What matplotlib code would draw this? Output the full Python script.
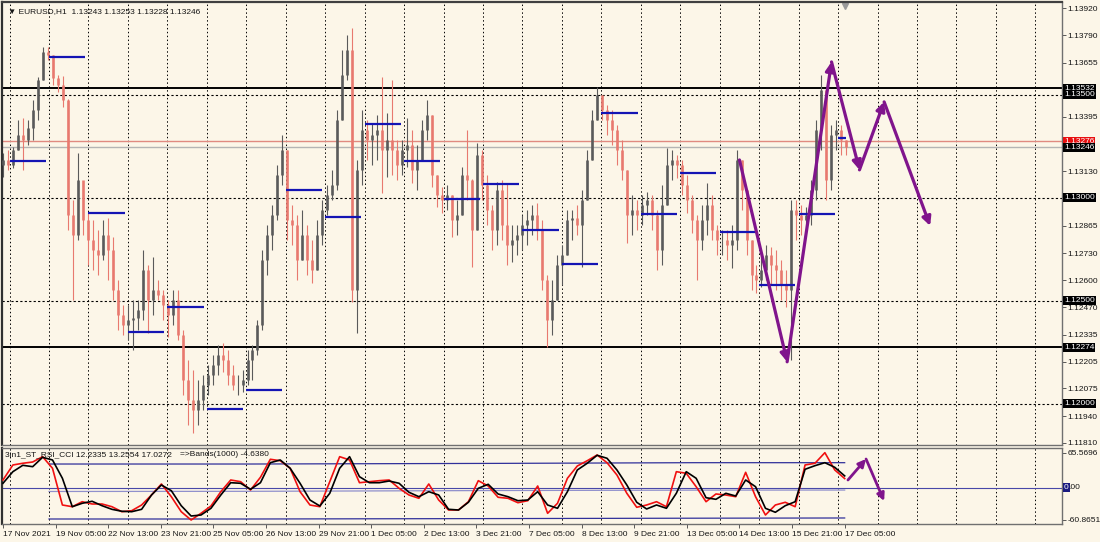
import numpy as np
import matplotlib
matplotlib.use("Agg")
import matplotlib.pyplot as plt
from matplotlib.transforms import blended_transform_factory

plt.rcParams['font.family'] = ['Liberation Sans', 'DejaVu Sans']

# EURUSD H1, read off the chart and grouped into 3-hour candles
# (17 Nov 21:00 -> 17 Dec 05:00); open = previous close
first_open = 1.13160
highs = [
    1.13218, 1.13233, 1.13248, 1.13379, 1.13388, 1.13379, 1.13476, 1.13587, 1.13733, 1.13733,
    1.13694, 1.13597, 1.13592, 1.13480, 1.12990, 1.13218, 1.13039, 1.12927, 1.12893, 1.12845,
    1.12893, 1.12903, 1.12811, 1.12602, 1.12481, 1.12481, 1.12505, 1.12505, 1.12748, 1.12675,
    1.12714, 1.12602, 1.12553, 1.12505, 1.12553, 1.12553, 1.12359, 1.12214, 1.12165, 1.12117,
    1.12141, 1.12189, 1.12238, 1.12286, 1.12296, 1.12262, 1.12189, 1.12141, 1.12165, 1.12262,
    1.12286, 1.12408, 1.12748, 1.12869, 1.12966, 1.13160, 1.13306, 1.13233, 1.12966, 1.12917,
    1.12942, 1.12869, 1.12796, 1.12893, 1.12990, 1.13063, 1.13136, 1.13427, 1.13718, 1.13791,
    1.13825, 1.13184, 1.13427, 1.13379, 1.13364, 1.13403, 1.13587, 1.13413, 1.13573, 1.13282,
    1.13282, 1.13388, 1.13330, 1.13257, 1.13379, 1.13476, 1.13403, 1.13112, 1.13053, 1.13063,
    1.13015, 1.12990, 1.13150, 1.13330, 1.13090, 1.13267, 1.13233, 1.13112, 1.12966, 1.13078,
    1.13087, 1.13073, 1.12869, 1.12869, 1.12917, 1.12942, 1.12966, 1.12976, 1.12893, 1.12626,
    1.12602, 1.12723, 1.12772, 1.12942, 1.12942, 1.12966, 1.13039, 1.13233, 1.13427, 1.13539,
    1.13500, 1.13451, 1.13427, 1.13354, 1.13282, 1.13136, 1.13015, 1.12990, 1.13015, 1.13029,
    1.13015, 1.12942, 1.13063, 1.13243, 1.13233, 1.13209, 1.13184, 1.13112, 1.13015, 1.12917,
    1.12966, 1.13073, 1.13015, 1.12869, 1.12845, 1.12845, 1.12869, 1.13233, 1.13184, 1.13015,
    1.12796, 1.12675, 1.12723, 1.12772, 1.12762, 1.12748, 1.12699, 1.12651, 1.12990, 1.12990,
    1.12966, 1.12956, 1.13087, 1.13379, 1.13597, 1.13524, 1.13354, 1.13379, 1.13354, 1.13282,
]
lows = [
    1.13102, 1.13136, 1.13146, 1.13233, 1.13136, 1.13257, 1.13282, 1.13379, 1.13573, 1.13670,
    1.13549, 1.13515, 1.13442, 1.12845, 1.12505, 1.12796, 1.12820, 1.12675, 1.12651, 1.12626,
    1.12699, 1.12602, 1.12505, 1.12359, 1.12335, 1.12311, 1.12262, 1.12359, 1.12408, 1.12345,
    1.12432, 1.12505, 1.12408, 1.12325, 1.12384, 1.12311, 1.12044, 1.11898, 1.11859, 1.11898,
    1.11971, 1.12044, 1.12092, 1.12141, 1.12155, 1.12092, 1.12068, 1.12044, 1.12058, 1.12092,
    1.12117, 1.12238, 1.12359, 1.12626, 1.12748, 1.12893, 1.13063, 1.12796, 1.12772, 1.12602,
    1.12699, 1.12626, 1.12587, 1.12651, 1.12772, 1.12917, 1.12990, 1.13039, 1.13379, 1.13573,
    1.12495, 1.12345, 1.13063, 1.13184, 1.13160, 1.13184, 1.13024, 1.13102, 1.13112, 1.13087,
    1.13112, 1.13150, 1.13073, 1.13039, 1.13184, 1.13282, 1.13053, 1.12956, 1.12927, 1.12942,
    1.12811, 1.12820, 1.12917, 1.12990, 1.12665, 1.12845, 1.12990, 1.12869, 1.12748, 1.12772,
    1.12796, 1.12675, 1.12689, 1.12723, 1.12748, 1.12772, 1.12820, 1.12796, 1.12553, 1.12277,
    1.12335, 1.12505, 1.12578, 1.12723, 1.12796, 1.12820, 1.12665, 1.12990, 1.13184, 1.13379,
    1.13379, 1.13306, 1.13257, 1.13160, 1.13087, 1.12782, 1.12820, 1.12845, 1.12869, 1.12917,
    1.12845, 1.12651, 1.12675, 1.12966, 1.13087, 1.13097, 1.13015, 1.12927, 1.12830, 1.12602,
    1.12748, 1.12820, 1.12796, 1.12723, 1.12723, 1.12699, 1.12660, 1.12748, 1.12942, 1.12723,
    1.12553, 1.12539, 1.12568, 1.12602, 1.12578, 1.12553, 1.12505, 1.12471, 1.12214, 1.12796,
    1.12820, 1.12845, 1.12869, 1.12990, 1.13233, 1.12990, 1.13039, 1.13233, 1.13209, 1.13209,
]
closes = [
    1.13184, 1.13160, 1.13233, 1.13306, 1.13282, 1.13340, 1.13427, 1.13573, 1.13709, 1.13694,
    1.13582, 1.13549, 1.13476, 1.12917, 1.12820, 1.13087, 1.12893, 1.12796, 1.12748, 1.12723,
    1.12820, 1.12748, 1.12553, 1.12432, 1.12384, 1.12408, 1.12418, 1.12456, 1.12651, 1.12505,
    1.12553, 1.12529, 1.12481, 1.12432, 1.12505, 1.12335, 1.12117, 1.12019, 1.11971, 1.12019,
    1.12092, 1.12141, 1.12189, 1.12238, 1.12214, 1.12141, 1.12092, 1.12092, 1.12117, 1.12214,
    1.12262, 1.12384, 1.12699, 1.12820, 1.12917, 1.13112, 1.13233, 1.12893, 1.12869, 1.12699,
    1.12820, 1.12699, 1.12651, 1.12820, 1.12942, 1.13015, 1.13063, 1.13379, 1.13597, 1.13718,
    1.12553, 1.13136, 1.13330, 1.13282, 1.13306, 1.13330, 1.13233, 1.13282, 1.13233, 1.13160,
    1.13233, 1.13257, 1.13136, 1.13184, 1.13330, 1.13403, 1.13112, 1.13015, 1.12990, 1.13015,
    1.12893, 1.12917, 1.13112, 1.13087, 1.12845, 1.13209, 1.13063, 1.12942, 1.12845, 1.13039,
    1.12869, 1.12772, 1.12796, 1.12820, 1.12869, 1.12893, 1.12917, 1.12845, 1.12602, 1.12408,
    1.12505, 1.12675, 1.12723, 1.12893, 1.12903, 1.12869, 1.12990, 1.13184, 1.13379, 1.13500,
    1.13427, 1.13379, 1.13330, 1.13233, 1.13136, 1.12917, 1.12942, 1.12917, 1.12966, 1.12990,
    1.12917, 1.12748, 1.12966, 1.13160, 1.13184, 1.13160, 1.13063, 1.12990, 1.12893, 1.12796,
    1.12893, 1.12966, 1.12845, 1.12796, 1.12796, 1.12772, 1.12796, 1.13184, 1.13039, 1.12796,
    1.12626, 1.12602, 1.12651, 1.12723, 1.12675, 1.12651, 1.12578, 1.12553, 1.12942, 1.12917,
    1.12893, 1.12917, 1.13039, 1.13330, 1.13524, 1.13087, 1.13306, 1.13330, 1.13282, 1.13246,
]
last_bar = 513  # hourly bars covered by the candles

# time axis: one label every 32 hourly bars
time_labels = ["17 Nov 2021", "19 Nov 05:00", "22 Nov 13:00", "23 Nov 21:00", "25 Nov 05:00",
               "26 Nov 13:00", "29 Nov 21:00", "1 Dec 05:00", "2 Dec 13:00", "3 Dec 21:00",
               "7 Dec 05:00", "8 Dec 13:00", "9 Dec 21:00", "13 Dec 05:00", "14 Dec 13:00",
               "15 Dec 21:00", "17 Dec 05:00"]

# blue daily level segments (one per day)
day_levels = [1.13179, 1.13684, 1.12927, 1.12350, 1.12471, 1.11977, 1.12069, 1.13039,
              1.12908, 1.13359, 1.13179, 1.12995, 1.13068, 1.12845, 1.12680, 1.13412,
              1.12922, 1.13121, 1.12835, 1.12578, 1.12922, 1.13291]

dotted_levels = [1.13500, 1.13000, 1.12500, 1.12000]
solid_levels = [1.13532, 1.12274]
ask_price = 1.13276
bid_price = 1.13246
price_ticks = [1.13920, 1.13790, 1.13655, 1.13395, 1.13130, 1.12865, 1.12730, 1.12600,
               1.12470, 1.12335, 1.12205, 1.12075, 1.11940, 1.11810]

# hand-drawn wave forecast (bar index, price)
wave_bars = [448, 477, 504, 521, 536, 564]
wave_prices = [1.13184, 1.12204, 1.13660, 1.13136, 1.13466, 1.12864]

# 3in1_ST_RSI_CCI oscillator, sampled every 6 bars
osc_fast = [14.3, 42.5, 45.7, 48.1, 58.1, 36.3, -32.7, -35.9, -26.5, -30.8,
            -30.8, -35.9, -45.3, -43.4, -32.7, -13.9, 6.8, -17.1, -45.3, -60.9,
            -48.3, -34.6, -7.7, 14.3, 11.1, -4.5, 19.4, 53.2, 50.5, 36.3,
            -7.7, -32.7, -35.9, 11.1, 58.1, 51.9, 9.2, 11.1, 13.0, 14.3,
            -1.3, -13.9, -20.1, 6.8, -23.3, -42.1, -42.1, -26.5, 13.0, 3.0,
            -18.2, -20.1, -28.4, -24.6, 3.0, -48.3, -29.5, 17.5, 40.6, 50.5,
            61.3, 46.8, 23.7, -10.7, -37.0, -32.7, -26.5, -35.9, 29.9, 26.9,
            1.7, -26.5, -12.0, -13.9, -17.1, 28.7, -17.1, -51.5, -32.7, -27.6,
            -35.9, 42.5, 45.7, 65.6, 33.1, 17.0]
osc_slow = [8.1, 29.9, 41.9, 39.3, 56.9, 51.9, 17.5, -35.9, -29.5, -25.7,
            -34.0, -40.8, -44.5, -45.3, -40.8, -13.9, 4.9, -5.8, -34.0, -53.4,
            -51.5, -38.9, -13.9, 9.2, 8.1, -3.2, 9.2, 46.8, 51.9, 36.3,
            8.1, -23.3, -34.6, -10.7, 36.3, 58.1, 20.5, 9.2, 9.2, 12.4,
            8.1, -8.8, -17.1, -7.7, -13.9, -40.8, -42.1, -27.6, -1.3, 6.2,
            -12.0, -17.1, -24.6, -23.3, -7.7, -32.7, -38.9, -7.7, 33.1, 45.7,
            60.7, 55.1, 33.1, 4.9, -27.6, -40.2, -32.7, -38.9, -10.7, 29.9,
            17.5, -19.0, -22.0, -10.7, -15.8, 14.3, 1.7, -38.9, -46.4, -34.0,
            -26.5, 34.4, 41.2, 46.8, 38.1, 22.0]
band_bars = [28, 150, 300, 420, 512]
band_upper = [44.3, 44.3, 45.5, 46.8, 46.8]
band_mid = [-7.3, -7.0, -5.5, -4.8, -4.6]
band_lower = [-59.0, -59.0, -58.2, -57.5, -57.1]
osc_wave_bars = [514, 525, 536]
osc_wave_vals = [14.3, 53.7, -25.2]

bg = '#FCF6E8'
bull_col = '#5A5A5A'
bear_col = '#E8796F'
purple = '#80148C'
blue = '#1414B4'
txt = '#151515'
fs = 6.0

fig = plt.figure(figsize=(11, 5.42), dpi=100, facecolor=bg)
ax = fig.add_axes([2 / 1100, 97 / 542, 1060 / 1100, 443 / 542], facecolor=bg)
ax2 = fig.add_axes([2 / 1100, 18 / 542, 1060 / 1100, 76 / 542], facecolor=bg, sharex=ax)

xmin, xmax = -0.6, 644.2
ax.set_xlim(xmin, xmax)
ax.set_ylim(1.11800, 1.13951)
ax2.set_ylim(-68.4, 74.4)

# vertical dotted grid, one line per trading day
for g in np.arange(4, xmax, 24):
    for a in (ax, ax2):
        a.axvline(g, color='black', lw=0.7, ls=(0, (1.5, 2.5)), zorder=1)

# horizontal levels
for lv in dotted_levels:
    ax.axhline(lv, color='black', lw=0.8, ls=(0, (2, 2)), zorder=1)
for lv in solid_levels:
    ax.axhline(lv, color='black', lw=1.4, zorder=1)
ax.axhline(ask_price, color='#E08A80', lw=1.0, zorder=1)
ax.axhline(bid_price, color='#B4B4B4', lw=1.0, zorder=1)

# candles
n = len(closes)
cx = np.linspace(0, last_bar, n)
c = np.array(closes)
o = np.r_[first_open, c[:-1]]
cols = np.where(c >= o, bull_col, bear_col)
ax.vlines(cx, lows, highs, colors=cols, lw=0.8, zorder=3)
ax.vlines(cx, np.minimum(o, c), np.maximum(o, c), colors=cols, lw=1.9, zorder=3)

# daily level segments
for i, lv in enumerate(day_levels):
    s = 4 + 24 * i
    ax.hlines(lv, s, min(s + 22, last_bar), color=blue, lw=1.6, zorder=4)

# wave arrows
for i in range(len(wave_bars) - 1):
    ax.annotate('', xy=(wave_bars[i + 1], wave_prices[i + 1]),
                xytext=(wave_bars[i], wave_prices[i]),
                arrowprops=dict(arrowstyle='-|>', color=purple, lw=2.3,
                                mutation_scale=13, shrinkA=0, shrinkB=0), zorder=5)

# oscillator
ox = np.linspace(0, 512, len(osc_slow))
ax2.axhline(0, color='#4848A8', lw=0.8, zorder=2)
ax2.plot(band_bars, band_upper, color='#30309A', lw=0.9, zorder=2)
ax2.plot(band_bars, band_mid, color='#9090CC', lw=0.9, zorder=2)
ax2.plot(band_bars, band_lower, color='#30309A', lw=0.9, zorder=2)
ax2.plot(ox, osc_fast, color='#F01010', lw=1.2, zorder=3)
ax2.plot(ox, osc_slow, color='black', lw=1.2, zorder=4)
for i in range(len(osc_wave_bars) - 1):
    ax2.annotate('', xy=(osc_wave_bars[i + 1], osc_wave_vals[i + 1]),
                 xytext=(osc_wave_bars[i], osc_wave_vals[i]),
                 arrowprops=dict(arrowstyle='-|>', color=purple, lw=2.0,
                                 mutation_scale=11, shrinkA=0, shrinkB=0), zorder=5)

# axes styling
for a in (ax, ax2):
    for side in ('top', 'left', 'bottom', 'right'):
        a.spines[side].set_color('#707070')
        a.spines[side].set_linewidth(1.0)
    a.spines['left'].set_color('#303030')
    a.spines['left'].set_linewidth(1.6)
    a.yaxis.tick_right()
    a.tick_params(axis='y', direction='out', length=3, width=0.6, color='#404040',
                  labelsize=fs, pad=1.2, labelcolor=txt)

ax.set_yticks(price_ticks)
ax.set_yticklabels([f'{p:.5f}' for p in price_ticks])
ax.tick_params(axis='x', bottom=False, labelbottom=False)
ax.spines['top'].set_color('#404040')
ax.spines['top'].set_linewidth(1.6)

ax2.set_yticks([65.5696, 0, -60.8651])
ax2.set_yticklabels(['65.5696', '', '-60.8651'])
ax2.set_xticks(np.arange(len(time_labels)) * 32)
ax2.set_xticklabels(time_labels, ha='left')
ax2.tick_params(axis='x', direction='out', length=3, width=0.6, color='#404040',
                labelsize=fs, pad=2, labelcolor=txt)

# price tags on the right axis
tr = blended_transform_factory(ax.transAxes, ax.transData)
tags = [(lv, 'black') for lv in solid_levels + dotted_levels] + [(ask_price, '#E81010'), (bid_price, 'black')]
for lv, fc in tags:
    ax.text(1.0 + 2 / 1060, lv, f'{lv:.5f}', transform=tr, ha='left', va='center',
            fontsize=fs, color='white', clip_on=False, zorder=10,
            bbox=dict(boxstyle='square,pad=0.12', fc=fc, ec='none'))

tr2 = blended_transform_factory(ax2.transAxes, ax2.transData)
ax2.text(1.0 + 2 / 1060, 0, '0', transform=tr2, ha='left', va='center', fontsize=fs,
         color='white', clip_on=False, bbox=dict(boxstyle='square,pad=0.1', fc='#1A1A80', ec='none'))
ax2.text(1.0 + 6 / 1060, 0, '.00', transform=tr2, ha='left', va='center', fontsize=fs,
         color=txt, clip_on=False)

# header texts
ax.text(6 / 1060, 1 - 10 / 443, '\u25BC EURUSD,H1  1.13243 1.13253 1.13228 1.13246',
        transform=ax.transAxes, ha='left', va='center', fontsize=fs, color=txt, zorder=10)
ax.plot([512], [0.992], transform=blended_transform_factory(ax.transData, ax.transAxes),
        marker='v', color='#9A9A9A', ms=4, clip_on=False)
ax2.text(3 / 1060, 1 - 7 / 76, '3in1_ST_RSI_CCI 12.2335 13.2554 17.0272',
         transform=ax2.transAxes, ha='left', va='center', fontsize=fs, color=txt, zorder=10)
ax2.text(178 / 1060, 1 - 7 / 76, '=>Bands(1000) -4.6380',
         transform=ax2.transAxes, ha='left', va='center', fontsize=fs, color=txt, zorder=10)

fig.savefig('out.png', dpi=100, facecolor=bg)
